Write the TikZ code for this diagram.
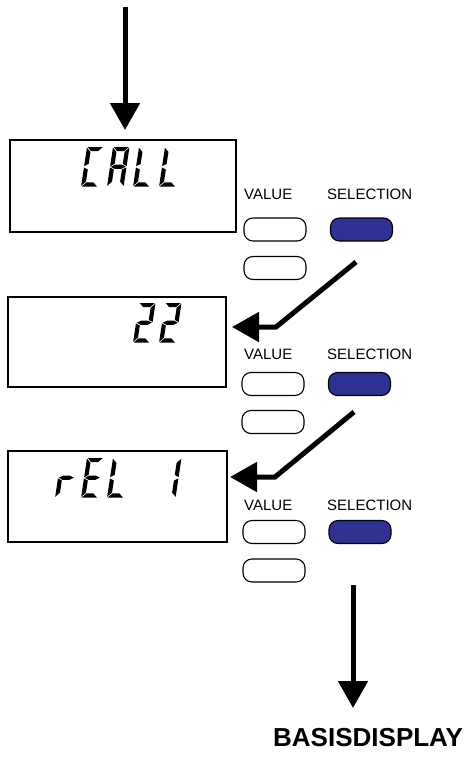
\documentclass[tikz,border=0pt]{standalone}
\usepackage{fontspec}
\setmainfont{Liberation Sans}
\usetikzlibrary{arrows.meta}
\definecolor{selblue}{HTML}{2E3192}
\newcommand\sgW{16.5}
\newcommand\sgH{39.5}
\newcommand\sgM{19.75}
\newcommand\sgT{4.2}
\newcommand\sgG{0.7}
\newcommand\segA{\fill (\sgG,0) -- (\sgW-\sgG,0) -- (\sgW-\sgT-\sgG,\sgT) -- (\sgT+\sgG,\sgT) -- cycle;}
\newcommand\segD{\fill (\sgG,\sgH) -- (\sgW-\sgG,\sgH) -- (\sgW-\sgT-\sgG,\sgH-\sgT) -- (\sgT+\sgG,\sgH-\sgT) -- cycle;}
\newcommand\segG{\fill (\sgG,\sgM) -- (\sgT+\sgG,\sgM-\sgT/2) -- (\sgW-\sgT-\sgG,\sgM-\sgT/2) -- (\sgW-\sgG,\sgM) -- (\sgW-\sgT-\sgG,\sgM+\sgT/2) -- (\sgT+\sgG,\sgM+\sgT/2) -- cycle;}
\newcommand\segF{\fill (0,\sgG) -- (\sgT,\sgT+\sgG) -- (\sgT,\sgM-\sgT/2-\sgG) -- (0,\sgM-\sgG) -- cycle;}
\newcommand\segE{\fill (0,\sgM+\sgG) -- (\sgT,\sgM+\sgT/2+\sgG) -- (\sgT,\sgH-\sgT-\sgG) -- (0,\sgH-\sgG) -- cycle;}
\newcommand\segB{\fill (\sgW,\sgG) -- (\sgW-\sgT,\sgT+\sgG) -- (\sgW-\sgT,\sgM-\sgT/2-\sgG) -- (\sgW,\sgM-\sgG) -- cycle;}
\newcommand\segC{\fill (\sgW,\sgM+\sgG) -- (\sgW-\sgT,\sgM+\sgT/2+\sgG) -- (\sgW-\sgT,\sgH-\sgT-\sgG) -- (\sgW,\sgH-\sgG) -- cycle;}
\newcommand\dchar[3]{\begin{scope}[shift={(#1,#2)},xslant=0.15]#3\end{scope}}
\begin{document}
\begin{tikzpicture}[x=1pt,y=-1pt,
  dispbox/.style={draw, line width=1.7pt, fill=white, inner sep=0pt},
  btn/.style={draw, line width=1.1pt, rounded corners=9pt, minimum width=62pt, minimum height=23pt, inner sep=0pt},
  valbtn/.style={btn, fill=white},
  selbtn/.style={btn, fill=selblue},
  lbl/.style={anchor=west, inner sep=0pt, font=\fontsize{15}{17}\selectfont},
  arr/.style={line width=5pt, -{Triangle[length=27pt,width=29pt]}}]
\useasboundingbox (0,0) rectangle (472,761);
% displays
\node[dispbox, minimum width=226pt, minimum height=92pt] (box1) at (123,186) {};
\node[dispbox, minimum width=218pt, minimum height=90pt] (box2) at (117,342) {};
\node[dispbox, minimum width=219pt, minimum height=91pt] (box3) at (117.5,496.5) {};
% CALL
\dchar{87}{147}{\segA\segD\segE\segF}
\dchar{113}{147}{\segA\segB\segC\segE\segF\segG}
\dchar{139}{147}{\segD\segE\segF}
\dchar{165}{147}{\segD\segE\segF}
% 22
\dchar{139}{303}{\segA\segB\segG\segE\segD}
\dchar{165}{303}{\segA\segB\segG\segE\segD}
% rEL 1
\dchar{61}{458}{\segE\segG}
\dchar{87}{458}{\segA\segD\segE\segF\segG}
\dchar{113}{458}{\segD\segE\segF}
\dchar{165}{458}{\segB\segC}
% labels and buttons, row 1
\node[lbl] (val1) at (244,194) {VALUE};
\node[lbl] (sel1) at (327,194) {SELECTION};
\node[valbtn] (v1a) at (275,229.5) {};
\node[selbtn] (s1) at (361.5,229.5) {};
\node[valbtn] (v1b) at (275,268) {};
% row 2
\node[lbl] (val2) at (244,354) {VALUE};
\node[lbl] (sel2) at (327,354) {SELECTION};
\node[valbtn] (v2a) at (273,384) {};
\node[selbtn] (s2) at (359.5,384) {};
\node[valbtn] (v2b) at (273,422) {};
% row 3
\node[lbl] (val3) at (244,505) {VALUE};
\node[lbl] (sel3) at (327,505) {SELECTION};
\node[valbtn] (v3a) at (274,532) {};
\node[selbtn] (s3) at (360,532) {};
\node[valbtn] (v3b) at (274,570.5) {};
% end label
\node[anchor=west, inner sep=0pt, font=\bfseries\fontsize{26}{30}\selectfont] (basis) at (273,737.5) {BASISDISPLAY};
% arrows
\coordinate (in0) at (125,7);
\coordinate (in1) at (125,130);
\draw[arr] (in0) -- (in1);
\coordinate (a1s) at (356,262);
\coordinate (a1b) at (276,327);
\coordinate (a1t) at (232,327);
\draw[arr] (a1s) -- (a1b) -- (a1t);
\coordinate (a2s) at (354,412);
\coordinate (a2b) at (275,477);
\coordinate (a2t) at (230,477);
\draw[arr] (a2s) -- (a2b) -- (a2t);
\coordinate (out0) at (353,585);
\coordinate (out1) at (353,708);
\draw[arr] (out0) -- (out1);
\end{tikzpicture}
\end{document}
